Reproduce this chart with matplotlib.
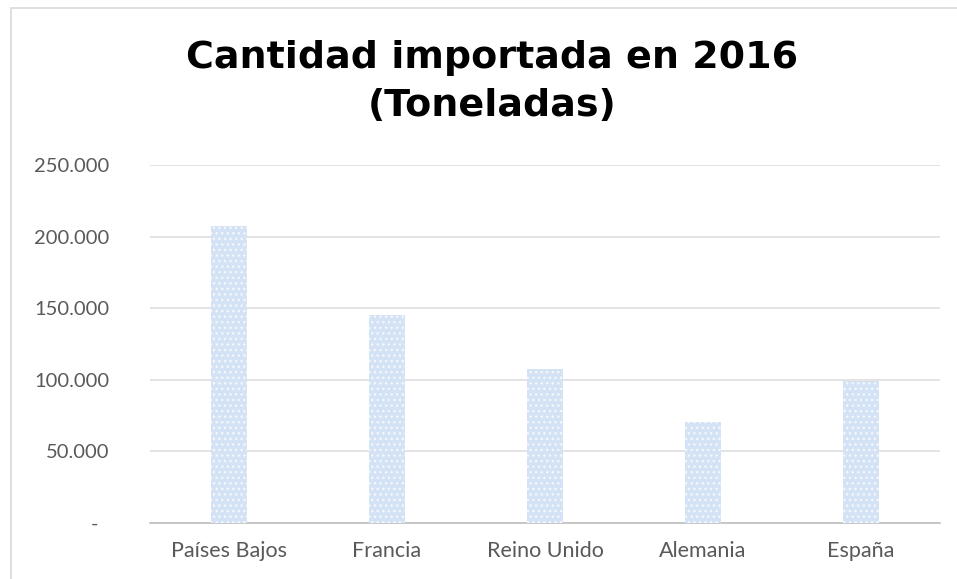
import matplotlib
matplotlib.use("Agg")
import matplotlib.pyplot as plt
import matplotlib.transforms as mtransforms
from matplotlib.patches import Rectangle

# Toneladas importadas por país de origen, 2016
paises = ["Países Bajos", "Francia", "Reino Unido", "Alemania", "España"]
toneladas = [207000, 145000, 107000, 70000, 99000]
y_ticks = [0, 50000, 100000, 150000, 200000, 250000]
y_labels = ["-", "50.000", "100.000", "150.000", "200.000", "250.000"]

plt.rcParams["hatch.linewidth"] = 1.0

W, H = 957, 579
fig = plt.figure(figsize=(W / 100, H / 100), dpi=100)
fig.patch.set_facecolor("white")

# marco gris claro alrededor del gráfico
fig.patches.append(Rectangle((11 / W, -0.05), 1.2, 1.05 - 8 / H,
                             transform=fig.transFigure, fill=False,
                             edgecolor="#d9d9d9", linewidth=1.2))

ax = fig.add_axes([150 / W, 1 - 522.5 / H, 790 / W, (522.5 - 165) / H])

x = range(len(paises))
# relleno azul claro y encima una trama de puntos blancos
ax.bar(x, toneladas, width=0.23, color="#d3e2f4", edgecolor="none", zorder=3)
ax.bar(x, toneladas, width=0.23, fill=False, edgecolor="#f4f8fd",
       linewidth=0, hatch="...", zorder=4)

ax.set_xlim(-0.5, len(paises) - 0.5)
ax.set_ylim(0, 250000)
ax.set_yticks(y_ticks)
ax.set_yticklabels(y_labels)
ax.set_xticks(list(x))
ax.set_xticklabels(paises)

ax.grid(axis="y", color="#dedede", linewidth=1.2, zorder=0)
for s in ["top", "right", "left"]:
    ax.spines[s].set_visible(False)
ax.spines["bottom"].set_color("#bfbfbf")
ax.spines["bottom"].set_linewidth(1.2)

ax.tick_params(axis="y", length=0, pad=29, labelsize=14.5, labelcolor="#595959")
ax.tick_params(axis="x", length=0, pad=13, labelsize=15.5, labelcolor="#595959")
for lab in ax.get_yticklabels() + ax.get_xticklabels():
    lab.set_family("Lato")

# el guion del cero va algo más a la derecha, como en formato contable
zero_lab = ax.get_yticklabels()[0]
zero_lab.set_transform(zero_lab.get_transform() +
                       mtransforms.ScaledTranslation(-11 / 100, 0, fig.dpi_scale_trans))

fig.text(492 / W, 1 - 82 / H, "Cantidad importada en 2016\n(Toneladas)",
         ha="center", va="center", fontsize=27.4, fontweight="bold",
         family="DejaVu Sans", linespacing=1.45)

fig.savefig("out.png", dpi=100)
